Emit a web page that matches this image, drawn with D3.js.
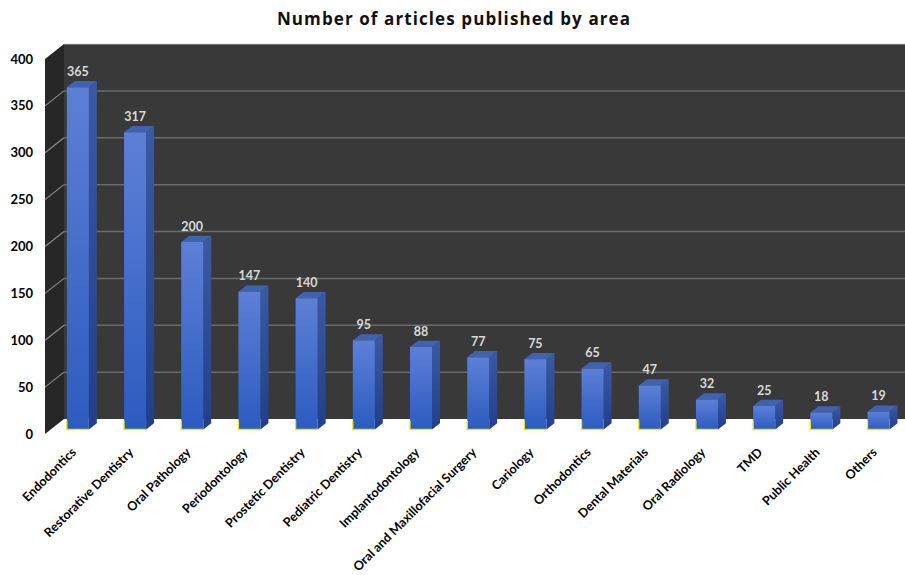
<!DOCTYPE html>
<html><head><meta charset="utf-8">
<script src="https://cdn.jsdelivr.net/npm/d3@7"></script>
<style>body{margin:0;background:#fff}svg{display:block}</style>
</head><body>
<svg id="c" width="905" height="575"></svg>
<script>
const categories = ["Endodontics","Restorative Dentistry","Oral Pathology","Periodontology","Prostetic Dentistry","Pediatric Dentistry","Implantodontology","Oral and Maxillofacial Surgery","Cariology","Orthodontics","Dental Materials","Oral Radiology","TMD","Public Health","Others"];
const values = [365,317,200,147,140,95,88,77,75,65,47,32,25,18,19];
const yTicks = [0,50,100,150,200,250,300,350,400];
const title = "Number of articles published by area";

const svg = d3.select("#c");
const FONT = "Lato, 'Open Sans', sans-serif";
const DX = 19, DY = -15;           // depth offset of the 3D box
const z0 = 0.3, z1 = 0.72;         // bar depth (fraction)
const y = d3.scaleLinear().domain([0,400]).range([434,59]);
const x = d3.scaleBand().domain(categories).range([44,901]).paddingInner(0.615).paddingOuter(0.3);
const P = (px, v, z) => [px + DX*z, y(v) + DY*z];

const defs = svg.append("defs");
const g1 = defs.append("linearGradient").attr("id","bf").attr("x1",0).attr("y1",0).attr("x2",0).attr("y2",1);
g1.append("stop").attr("offset","0%").attr("stop-color","#5d80d6");
g1.append("stop").attr("offset","100%").attr("stop-color","#2c5bc0");
const g2 = defs.append("linearGradient").attr("id","bs").attr("x1",0).attr("y1",0).attr("x2",0).attr("y2",1);
g2.append("stop").attr("offset","0%").attr("stop-color","#3a5aa6");
g2.append("stop").attr("offset","100%").attr("stop-color","#213f8a");

// title
svg.append("text").attr("x",454).attr("y",25).attr("text-anchor","middle")
  .attr("font-family","'Open Sans', sans-serif").attr("font-weight","bold").attr("font-size",17)
  .attr("letter-spacing",1.1).attr("fill","#111").text(title);

const xL = 45, xR = 905 - DX;
svg.append("polygon").attr("points",[P(xL,400,1),P(xR,400,1),P(xR,0,1),P(xL,0,1)].join(" ")).attr("fill","#3a3939");
svg.append("polygon").attr("points",[P(xL,400,0),P(xL,400,1),P(xL,0,1),P(xL,0,0)].join(" ")).attr("fill","#282727");
svg.append("line").attr("x1",P(xL,400,1)[0]).attr("x2",905).attr("y1",P(xL,400,1)[1]).attr("y2",P(xL,400,1)[1])
  .attr("stroke","#c8cccc").attr("stroke-width",0.8);

yTicks.filter(t=>t>0 && t<400).forEach(t=>{
  const a=P(xL,t,0), b=P(xL,t,1), c=P(xR,t,1);
  svg.append("line").attr("x1",a[0]).attr("y1",a[1]).attr("x2",b[0]).attr("y2",b[1]).attr("stroke","#8a8a8a").attr("stroke-width",1.2);
  svg.append("line").attr("x1",b[0]).attr("y1",b[1]).attr("x2",905).attr("y2",c[1]).attr("stroke","#6b6b6b").attr("stroke-width",1.5);
});

svg.append("g").selectAll("text").data(yTicks).join("text")
  .attr("x",33).attr("y",d=>y(d)).attr("dy","0.35em").attr("text-anchor","end")
  .attr("font-family",FONT).attr("font-weight","bold").attr("font-size",13).attr("fill","#000")
  .text(d=>d);

const bars = svg.append("g").selectAll("g").data(categories.map((c,i)=>({c,v:values[i]}))).join("g");
bars.each(function(d){
  const g=d3.select(this);
  const xa=x(d.c), xb=x(d.c)+x.bandwidth();
  g.append("polygon").attr("points",[P(xb,d.v,z0),P(xb,d.v,z1),P(xb,0,z1),P(xb,0,z0)].join(" ")).attr("fill","url(#bs)");
  g.append("polygon").attr("points",[P(xa,d.v,z0),P(xa,d.v,z1),P(xb,d.v,z1),P(xb,d.v,z0)].join(" ")).attr("fill","#4063b0");
  const fa=P(xa,d.v,z0), fb=P(xb,0,z0);
  g.append("rect").attr("x",fa[0]).attr("y",fa[1]).attr("width",fb[0]-fa[0]).attr("height",fb[1]-fa[1]).attr("fill","url(#bf)");
  g.append("polyline").attr("points",[[fa[0],fb[1]-9],[fa[0],fb[1]],[fb[0],fb[1]]].join(" "))
    .attr("fill","none").attr("stroke","#f2e600").attr("stroke-width",1.3);
  const tb=P(xa,d.v,z1);
  g.append("text").attr("x",(fa[0]+fb[0])/2).attr("y",tb[1]-5).attr("text-anchor","middle")
    .attr("font-family",FONT).attr("font-weight","bold").attr("font-size",12.5).attr("fill","#d8d8d8").text(d.v);
});

svg.append("g").selectAll("text").data(categories).join("text")
  .attr("transform",d=>{const p=P(x(d)+x.bandwidth()/2,0,z0);return `translate(${p[0]-4},${450}) rotate(-45)`;})
  .attr("text-anchor","end").attr("dy","0.35em")
  .attr("font-family",FONT).attr("font-weight","bold").attr("font-size",12.6).attr("fill","#000")
  .text(d=>d);
</script>
</body></html>
